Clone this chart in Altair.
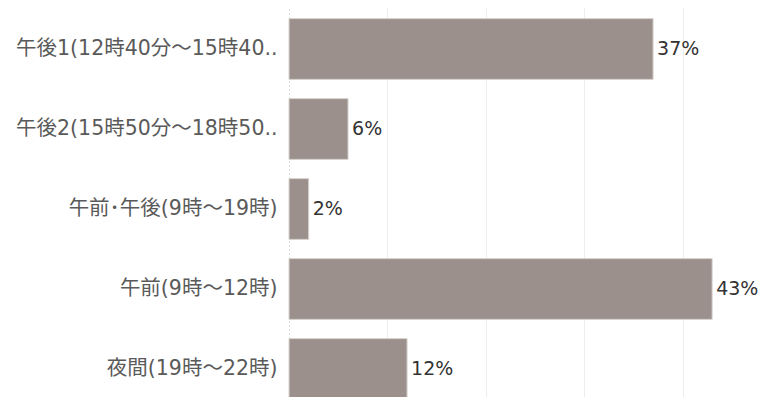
import altair as alt
import pandas as pd

categories = [
    "午後1(12時40分〜15時40..",
    "午後2(15時50分〜18時50..",
    "午前･午後(9時〜19時)",
    "午前(9時〜12時)",
    "夜間(19時〜22時)",
]
shares = [37, 6, 2, 43, 12]
labels = ["37%", "6%", "2%", "43%", "12%"]
grid_values = [10, 20, 30, 40]

df = pd.DataFrame({"cat": categories, "share": shares, "label": labels})

FONT = "DejaVu Sans, Noto Sans CJK JP"

y_enc = alt.Y(
    "cat:N",
    sort=categories,
    title=None,
    scale=alt.Scale(range=[0, 400], paddingInner=0.24, paddingOuter=0.12),
    axis=alt.Axis(
        ticks=False,
        labelPadding=12,
        labelFont=FONT,
        labelFontSize=20.5,
        labelColor="#5a5a5a",
        labelLimit=300,
        domainColor="#bbbbbb",
        domainDash=[1, 3],
        domainWidth=1,
        grid=False,
    ),
)
x_scale = alt.Scale(domain=[0, 47.05], nice=False)

bars = alt.Chart(df).mark_bar(
    color="#9b908c", stroke="#d9d4d2", strokeWidth=1
).encode(
    y=y_enc,
    x=alt.X(
        "share:Q",
        scale=x_scale,
        title=None,
        axis=alt.Axis(
            values=grid_values,
            labels=False,
            ticks=False,
            domain=False,
            grid=True,
            gridColor="#ededed",
            gridWidth=1,
        ),
    ),
)

text = alt.Chart(df).mark_text(
    align="left", baseline="middle", dx=4, font=FONT, fontSize=19, color="#333333"
).encode(
    y=alt.Y("cat:N", sort=categories),
    x=alt.X("share:Q", scale=x_scale),
    text="label:N",
)

chart = (
    alt.layer(bars, text)
    .properties(
        width=463,
        height=388,
        autosize=alt.AutoSizeParams(type="none"),
        padding={"left": 281, "top": 1, "right": 8, "bottom": 0},
    )
    .configure_view(stroke=None)
)

chart.save("out.html", embed_options={"renderer": "svg", "actions": False})
